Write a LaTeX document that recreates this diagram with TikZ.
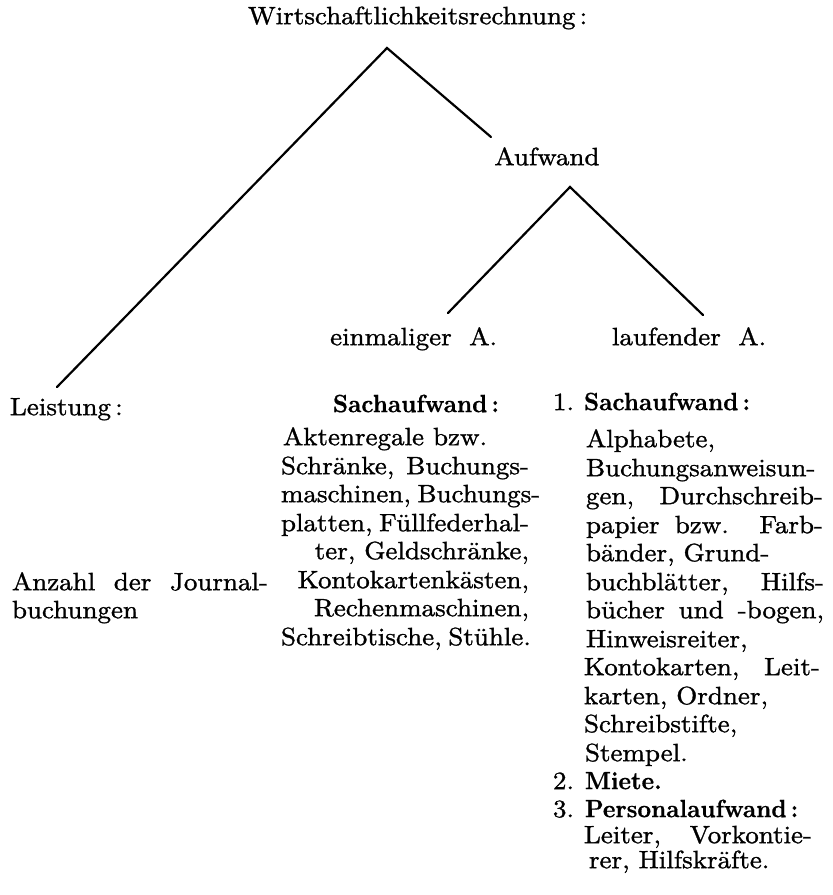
\documentclass[tikz,border=0pt]{standalone}
\usepackage{fontspec}
\setmainfont{lmroman10-regular.otf}[FakeStretch=1.08, FakeBold=1.2]
\newfontfamily\bfx{lmroman10-bold.otf}[FakeStretch=0.95, FakeBold=0.6]
\tikzset{
  txt/.style={inner sep=0pt, outer sep=0pt, font=\fontsize{25}{28}\selectfont},
  bld/.style={inner sep=0pt, outer sep=0pt, font=\fontsize{25}{28}\selectfont\bfx},
  ln/.style={line width=2.2pt, line cap=round, line join=miter}
}
\begin{document}
\begin{tikzpicture}[x=1pt,y=-1pt]
\fill[white] (0,0) rectangle (833,895);
\useasboundingbox (0,0) rectangle (833,895);
% tree
\node[txt, anchor=mid west] (title) at (248,22) {Wirtschaftlichkeitsrechnung\,:};
\node[txt, anchor=mid] (aufw) at (547,163) {Aufwand};
\node[txt, anchor=mid east] (einm) at (497,343) {einmaliger\hspace{0.7em}A.};
\node[txt, anchor=mid west] (lauf) at (612,343) {laufender\hspace{0.7em}A.};
\coordinate (tA) at (387,48);
\coordinate (tL) at (57,387);
\coordinate (tR) at (491,137);
\coordinate (aA) at (570,187);
\coordinate (aL) at (448,313);
\coordinate (aR) at (703,315);
\draw[ln] (tL) -- (tA) -- (tR);
\draw[ln] (aL) -- (aA) -- (aR);
% left column
\node[txt, anchor=mid west] (leist) at (10,413) {Leistung\,:};
\node[txt, anchor=mid west] (anz1) at (12,588) {\makebox[256pt][s]{Anzahl der Journal-}};
\node[txt, anchor=mid west] (anz2) at (12,616) {buchungen};
% middle column
\node[bld, anchor=mid] (m0) at (416,410) {Sachaufwand\,:};
\node[txt, anchor=mid west] (m1) at (283,443) {Aktenregale bzw.};
\node[txt, anchor=mid west] (m2) at (281,472) {\makebox[248pt][s]{Schränke, Buchungs-}};
\node[txt, anchor=mid west] (m3) at (281,500) {\makebox[248pt][s]{maschinen, Buchungs-}};
\node[txt, anchor=mid west] (m4) at (281,529) {\makebox[248pt][s]{platten, Füllfederhal-}};
\node[txt, anchor=mid east] (m5) at (529,557) {ter, Geldschränke,};
\node[txt, anchor=mid east] (m6) at (529,586) {Kontokartenkästen,};
\node[txt, anchor=mid east] (m7) at (529,614) {Rechenmaschinen,};
\node[txt, anchor=mid west] (m8) at (281,643) {\makebox[248pt][s]{Schreibtische, Stühle.}};
% right column
\node[txt, anchor=mid west] (n1) at (553,408) {1.};
\node[bld, anchor=mid west] (r0) at (584,408) {Sachaufwand\,:};
\node[txt, anchor=mid west] (r1) at (586,445) {Alphabete,};
\node[txt, anchor=mid west] (r2) at (586,474) {Buchungsanweisun-};
\node[txt, anchor=mid west] (r3) at (586,502) {\makebox[237pt][s]{gen, Durchschreib-}};
\node[txt, anchor=mid west] (r4) at (586,531) {\makebox[237pt][s]{papier bzw. Farb-}};
\node[txt, anchor=mid west] (r5) at (586,559) {bänder, Grund-};
\node[txt, anchor=mid west] (r6) at (586,588) {\makebox[238pt][s]{buchblätter, Hilfs-}};
\node[txt, anchor=mid west] (r7) at (586,616) {\makebox[238pt][s]{bücher und -bogen,}};
\node[txt, anchor=mid west] (r8) at (586,645) {Hinweisreiter,};
\node[txt, anchor=mid west] (r9) at (584,673) {\makebox[236pt][s]{Kontokarten, Leit-}};
\node[txt, anchor=mid west] (r10) at (584,702) {karten, Ordner,};
\node[txt, anchor=mid west] (r11) at (584,730) {Schreibstifte,};
\node[txt, anchor=mid west] (r12) at (585,759) {Stempel.};
\node[txt, anchor=mid west] (n2) at (553,787) {2.};
\node[bld, anchor=mid west] (r13) at (585,787) {Miete.};
\node[txt, anchor=mid west] (n3) at (553,815) {3.};
\node[bld, anchor=mid west] (r14) at (585,815) {Personalaufwand\,:};
\node[txt, anchor=mid west] (r15) at (584,841) {\makebox[228pt][s]{Leiter, Vorkontie-}};
\node[txt, anchor=mid west] (r16) at (589,866) {rer, Hilfskräfte.};
\end{tikzpicture}
\end{document}
